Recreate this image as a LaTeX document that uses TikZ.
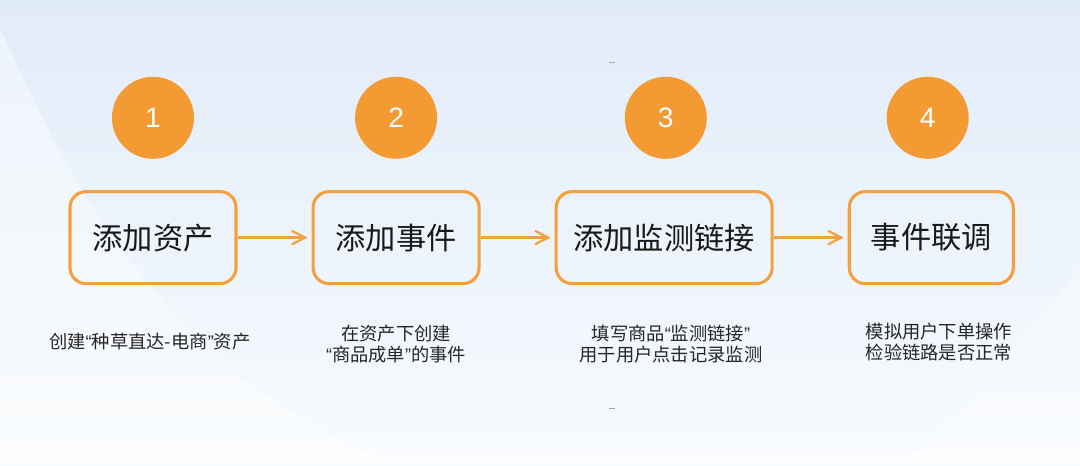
\documentclass[tikz,border=0pt]{standalone}
\usepackage{fontspec}
\setmainfont{Liberation Sans}
\newfontfamily\cjk{Noto Sans CJK SC}
\newfontfamily\latin{Liberation Sans}
\usepackage{xcolor}
\usepackage{tikz}
\usetikzlibrary{arrows.meta, positioning, calc}

\definecolor{stepOrange}{HTML}{F39A33}
\definecolor{lineOrange}{HTML}{F5A03F}
\definecolor{bgTop}{HTML}{E1ECF9}
\definecolor{bgBottom}{HTML}{F8FBFE}

\newcommand{\oq}{{\latin“}}
\newcommand{\cq}{{\latin”}}

\begin{document}
\begin{tikzpicture}[node distance=1.85cm]
\tikzstyle{stepbox} = [rectangle, rounded corners=0.4cm, minimum width=4.15cm, minimum height=2.3cm, text centered, draw=lineOrange, line width=2.2pt, font=\cjk\fontsize{21.5}{26}\selectfont, text=black!90]
\tikzstyle{badge} = [circle, minimum size=2.05cm, inner sep=0pt, fill=stepOrange, text=white, font=\fontsize{20}{24}\selectfont]
\tikzstyle{desc} = [align=center, font=\cjk\fontsize{13}{15}\selectfont, text=black!85]
\tikzstyle{arrow} = [line width=1.6pt, draw=lineOrange, -{Straight Barb[length=3.3mm, width=3.4mm]}, shorten >=0.1cm]

% Background
\useasboundingbox (0,0) rectangle (27,-11.625);
\shade[top color=bgTop, bottom color=bgBottom] (0,0) rectangle (27,-11.625);
\fill[white, opacity=0.4] (0,-0.7) .. controls (1.5,-4) and (4,-9.5) .. (10,-11.625) -- (0,-11.625) -- cycle;
\fill[white, opacity=0.3] (27,-6.7) .. controls (25.5,-8.5) and (24,-10.5) .. (22.5,-11.625) -- (27,-11.625) -- cycle;
\fill[white, opacity=0.4] (0,-11.25) rectangle (27,-11.625);
\draw[gray!70, line width=0.6pt] (15.22,-1.55) -- (15.38,-1.55);
\draw[gray!70, line width=0.6pt] (15.22,-10.2) -- (15.38,-10.2);

% Steps
\node (asset) [stepbox] at (3.825,-5.94) {添加资产};
\node (event) [stepbox, right=of asset] {添加事件};
\node (link) [stepbox, right=of event, minimum width=5.4cm] {添加监测链接};
\node (debug) [stepbox, right=of link, minimum width=4.1cm] {事件联调};

% Badges
\node (n1) [badge, above=0.775cm of asset] {1};
\node (n2) [badge, above=0.775cm of event] {2};
\node (n3) [badge, above=0.775cm of link, xshift=0.04cm] {3};
\node (n4) [badge, above=0.775cm of debug, xshift=-0.09cm] {4};

% Notes
\node (d1) [desc] at ($(asset.south)+(-0.08,-1.4)$) {创建\oq 种草直达-电商\cq 资产};
\node (d2) [desc] at ($(event.south)+(0,-1.48)$) {在资产下创建\\\oq 商品成单\cq 的事件};
\node (d3) [desc] at ($(link.south)+(0.17,-1.48)$) {填写商品\oq 监测链接\cq\\用于用户点击记录监测};
\node (d4) [desc] at ($(debug.south)+(0.19,-1.43)$) {模拟用户下单操作\\检验链路是否正常};

% Connections
\draw [arrow] (asset) -- (event);
\draw [arrow] (event) -- (link);
\draw [arrow] (link) -- (debug);

\end{tikzpicture}
\end{document}
